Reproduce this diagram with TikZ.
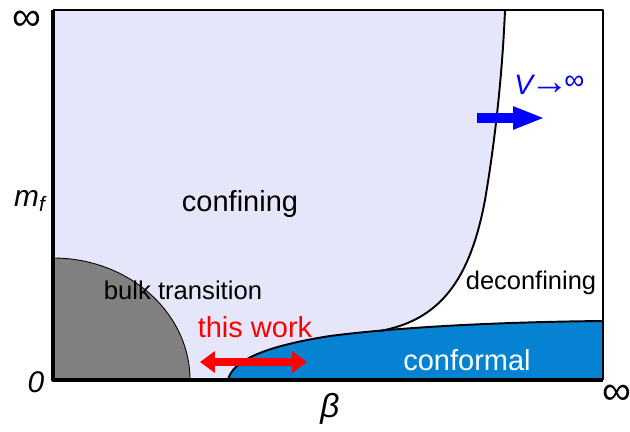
\documentclass[tikz,border=0pt]{standalone}
\usepackage{fontspec}
\setmainfont{Liberation Sans}
\usetikzlibrary{arrows.meta}
\definecolor{clavender}{HTML}{E6E6FA}
\definecolor{cconf}{HTML}{0583D2}
\definecolor{cbulk}{HTML}{808080}
\tikzset{
  every picture/.style={line join=round},
  phase/.style={anchor=base, inner sep=0pt, font=\fontsize{16.5}{18}\selectfont},
  axislbl/.style={anchor=base, inner sep=0pt, font=\fontsize{17}{19}\selectfont\itshape},
  inflbl/.style={inner sep=0pt, font=\fontsize{23}{24}\selectfont},
  boundary/.style={draw=black, line width=1.1pt},
  workarrow/.style={draw=red, line width=4pt, {Triangle[length=0.3cm,width=0.42cm]}-{Triangle[length=0.3cm,width=0.42cm]}},
  limarrow/.style={draw=blue, line width=6.2pt, -{Triangle[length=0.64cm,width=0.42cm]}},
}

\begin{document}
\begin{tikzpicture}[x=0.02cm, y=-0.02cm]
  \useasboundingbox (0,0) rectangle (630,432);
  % phase regions
  \fill[clavender] (53,10) -- (505,10) .. controls (503,60) and (497,130) .. (485,200)
    .. controls (470,280) and (440,320) .. (380,331) -- (380,380) -- (53,380) -- cycle;
  \fill[cconf] (228,380) .. controls (232,362) and (260,347) .. (330,336)
    .. controls (400,327) and (500,322) .. (603,321) -- (603,380) -- cycle;
  \fill[cbulk] (53,258) arc[x radius=137, y radius=122, start angle=-90, end angle=0] -- (53,380) -- cycle;
  \draw[line width=0.5pt] (53,258) arc[x radius=137, y radius=122, start angle=-90, end angle=0];
  % boundaries
  \draw[boundary] (228,380) .. controls (232,362) and (260,347) .. (330,336)
    .. controls (400,327) and (500,322) .. (603,321);
  \draw[boundary] (380,331) .. controls (440,320) and (470,280) .. (485,200)
    .. controls (497,130) and (503,60) .. (505,10);
  % frame
  \draw[line width=1.2pt] (53,10) -- (603,10) -- (603,380);
  \draw[line width=1.8pt] (53,10) -- (53,380) -- (603,380);

  % labels
  \node[phase] (confining) at (240,212) {confining};
  \node[phase, font=\fontsize{14.6}{16}\selectfont] (bulk) at (183,300) {bulk transition};
  \node[phase, font=\fontsize{14.5}{16}\selectfont] (deconf) at (531,290) {deconfining};
  \node[phase, text=white] (conformal) at (467,371) {conformal};
  \node[phase, text=red] (thiswork) at (255,338) {this work};
  \node[axislbl] (mf) at (30,207) {m\textsubscript{f}};
  \node[axislbl] (zero) at (36,393) {0};
  \node[axislbl, font=\fontsize{19}{20}\selectfont\itshape] (beta) at (330,418) {β};
  \node[inflbl] (inftop) at (27,21) {∞};
  \node[inflbl] (infright) at (617,395) {∞};
  \node[anchor=base west, inner sep=0pt, text=blue] (vlim) at (514,95)
    {\fontsize{16}{18}\selectfont\textit{V}\kern-2.5pt\fontsize{22}{22}\selectfont →\kern-3pt\raisebox{3pt}{\fontsize{16}{16}\selectfont ∞}};

  % arrows
  \coordinate (work-l) at (200,362);
  \coordinate (work-r) at (307,362);
  \draw[workarrow] (work-l) -- (work-r);
  \coordinate (lim-a) at (477,118);
  \coordinate (lim-b) at (545,118);
  \draw[limarrow] (lim-a) -- (lim-b);
\end{tikzpicture}
\end{document}
